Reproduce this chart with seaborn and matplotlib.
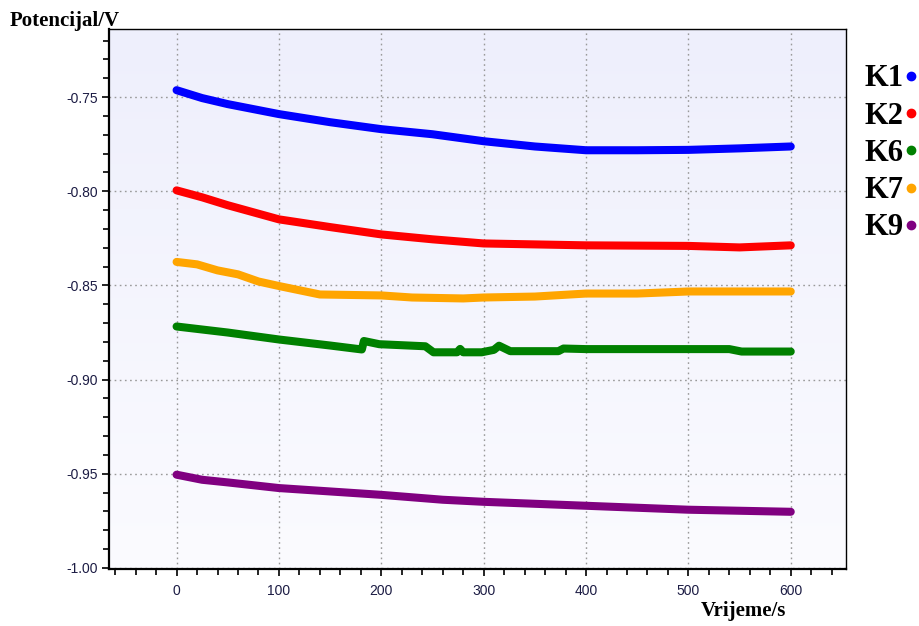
import matplotlib
matplotlib.use("Agg")
import matplotlib.pyplot as plt
from matplotlib.lines import Line2D
from matplotlib.ticker import MultipleLocator, FormatStrFormatter
import numpy as np
import pandas as pd
import seaborn as sns

# ---------------------------------------------------------------------
# Data (time in s, potential in V)
# ---------------------------------------------------------------------
t_k1 = [0, 25, 50, 100, 150, 200, 250, 300, 350, 400, 450, 500, 550, 600]
v_k1 = [-0.7463, -0.7505, -0.7537, -0.7590, -0.7633, -0.7670, -0.7697,
        -0.7734, -0.7762, -0.7782, -0.7782, -0.7780, -0.7772, -0.7762]

t_k2 = [0, 25, 50, 100, 150, 200, 250, 300, 400, 500, 550, 600]
v_k2 = [-0.7995, -0.8032, -0.8074, -0.8149, -0.8190, -0.8229, -0.8255,
        -0.8277, -0.8287, -0.8290, -0.8298, -0.8287]

t_k6 = [0, 50, 100, 150, 181, 183, 198, 243, 251, 274, 277, 280, 298,
        310, 315, 326, 373, 378, 400, 540, 552, 600]
v_k6 = [-0.8718, -0.8750, -0.8787, -0.8819, -0.8840, -0.8795, -0.8812,
        -0.8823, -0.8855, -0.8855, -0.8837, -0.8855, -0.8855, -0.8842,
        -0.8820, -0.8849, -0.8849, -0.8835, -0.8838, -0.8838, -0.8851,
        -0.8851]

t_k7 = [0, 20, 40, 60, 80, 100, 140, 200, 230, 280, 300, 350, 400, 450,
        500, 600]
v_k7 = [-0.8375, -0.8388, -0.8420, -0.8441, -0.8479, -0.8503, -0.8548,
        -0.8553, -0.8564, -0.8569, -0.8564, -0.8559, -0.8543, -0.8543,
        -0.8532, -0.8532]

t_k9 = [0, 25, 50, 100, 200, 260, 300, 400, 500, 600]
v_k9 = [-0.9505, -0.9532, -0.9546, -0.9576, -0.9612, -0.9638, -0.9649,
        -0.9670, -0.9691, -0.9702]

series_names = ["K1", "K2", "K6", "K7", "K9"]
series_colors = ["#0000ff", "#ff0000", "#008000", "#ffa500", "#800080"]

df = pd.concat([
    pd.DataFrame({"t": t, "v": v, "uzorak": name})
    for name, t, v in zip(series_names,
                          [t_k1, t_k2, t_k6, t_k7, t_k9],
                          [v_k1, v_k2, v_k6, v_k7, v_k9])
], ignore_index=True)

# ---------------------------------------------------------------------
# Figure
# ---------------------------------------------------------------------
sns.set_theme(style="white")
plt.rcParams["font.family"] = ["Liberation Sans", "DejaVu Sans"]
plt.rcParams["text.color"] = "black"

fig = plt.figure(figsize=(9.2, 6.26), dpi=100)
ax = fig.add_axes([0.1185, 0.091, 0.8011, 0.8627])

# light lavender-to-white gradient behind the plot
grad = np.linspace(0, 1, 256)[:, None]
top = np.array([238, 239, 252]) / 255
bottom = np.array([251, 251, 255]) / 255
img = top + (bottom - top) * grad[..., None]
ax.imshow(img, extent=[0, 1, 0, 1], transform=ax.transAxes, aspect="auto",
          zorder=0, interpolation="bilinear")

sns.lineplot(data=df, x="t", y="v", hue="uzorak", hue_order=series_names,
             palette=dict(zip(series_names, series_colors)), linewidth=5.8,
             estimator=None, sort=True, legend=False, ax=ax, zorder=3,
             solid_capstyle="round", solid_joinstyle="round")

ax.set_xlim(-66, 654)
ax.set_ylim(-1.0006, -0.7138)

ax.xaxis.set_major_locator(MultipleLocator(100))
ax.xaxis.set_minor_locator(MultipleLocator(20))
ax.yaxis.set_major_locator(MultipleLocator(0.05))
ax.yaxis.set_minor_locator(MultipleLocator(0.01))
ax.yaxis.set_major_formatter(FormatStrFormatter("%.2f"))

ax.grid(True, which="major", color="#999999", linestyle=(0, (1.2, 2.5)),
        linewidth=1.0, zorder=1)
ax.set_axisbelow(True)

for side in ["left", "bottom"]:
    ax.spines[side].set_color("black")
    ax.spines[side].set_linewidth(1.6)
for side in ["top", "right"]:
    ax.spines[side].set_color("black")
    ax.spines[side].set_linewidth(1.0)

ax.tick_params(which="major", direction="out", length=5, width=1.2,
               color="black", labelsize=10, labelcolor="#1c1c44", pad=3,
               bottom=True, left=True)
ax.tick_params(which="minor", direction="out", length=4, width=1.2,
               color="black", bottom=True, left=True)
ax.tick_params(axis="x", pad=6)

ax.set_xlabel("")
ax.set_ylabel("")

serif = ["Liberation Serif", "DejaVu Serif"]
fig.text(0.011, 0.966, "Potencijal/V", family=serif, fontweight="bold",
         fontsize=15, ha="left", va="center", color="black")
fig.text(0.855, 0.024, "Vrijeme/s", family=serif, fontweight="bold",
         fontsize=15, ha="right", va="center", color="black")

handles = [Line2D([], [], marker="o", linestyle="", color=c, markersize=6)
           for c in series_colors]
leg = fig.legend(handles, series_names, loc="upper left",
                 bbox_to_anchor=(0.9395, 0.897), frameon=False,
                 markerfirst=False, handlelength=0.4, handletextpad=0.05,
                 labelspacing=0.27, borderaxespad=0, borderpad=0,
                 labelcolor="black",
                 prop={"family": serif, "weight": "bold", "size": 22})

fig.savefig("out.png", dpi=100)
